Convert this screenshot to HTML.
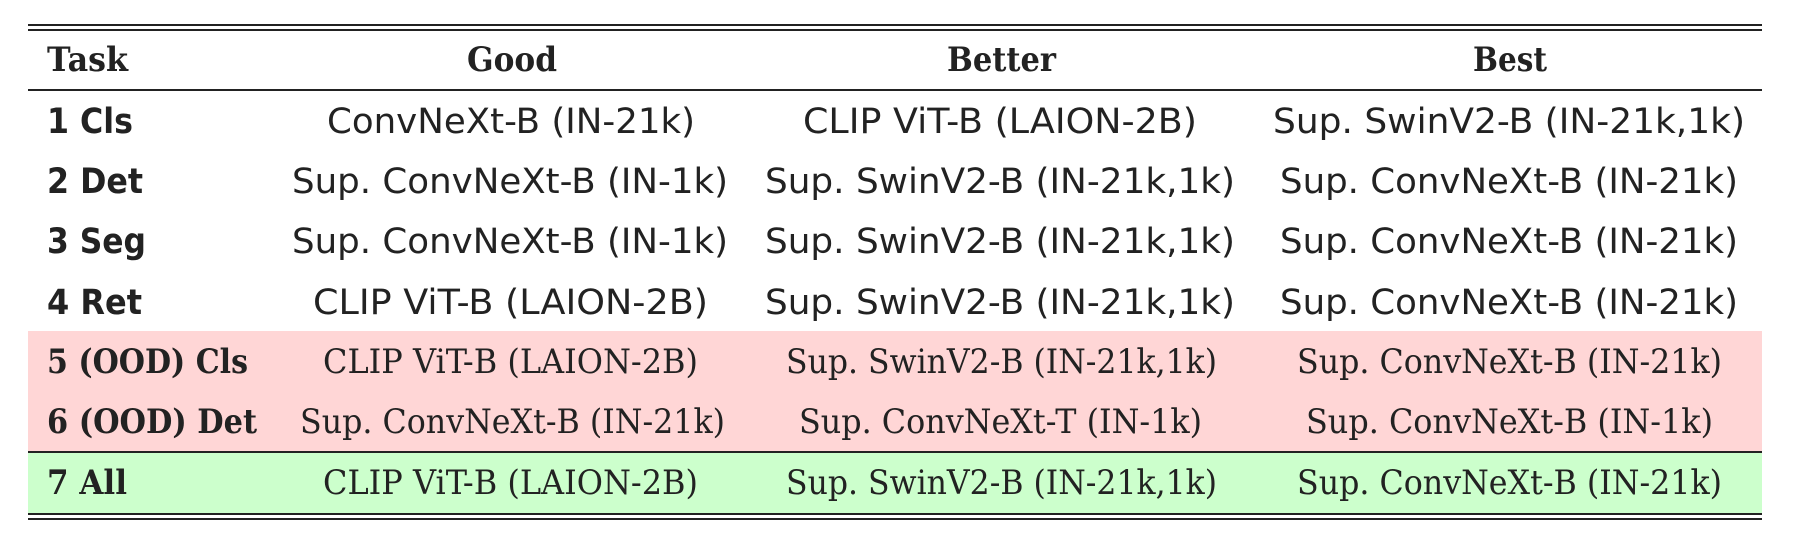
<!DOCTYPE html>
<html><head><meta charset="utf-8"><style>
html,body{margin:0;padding:0;background:#fff;}
svg{display:block;}
.s{font-family:"DejaVu Sans","Liberation Sans",sans-serif;font-size:35px;fill:#222;}
.sb{font-family:"DejaVu Sans","Liberation Sans",sans-serif;font-size:35px;font-weight:bold;fill:#222;}
.r{font-family:"DejaVu Serif","Liberation Serif",serif;font-size:34px;fill:#222;}
.rb{font-family:"DejaVu Serif","Liberation Serif",serif;font-size:34px;font-weight:bold;fill:#222;}
</style></head><body>
<svg width="1798" height="541" viewBox="0 0 1798 541" xmlns="http://www.w3.org/2000/svg">
<rect x="28" y="331" width="1734" height="120" fill="#ffd6d6"/>
<rect x="28" y="453" width="1734" height="60" fill="#ccffcc"/>
<rect x="28" y="24" width="1734" height="2" fill="#222"/>
<rect x="28" y="29" width="1734" height="2" fill="#222"/>
<rect x="28" y="89" width="1734" height="2" fill="#222"/>
<rect x="28" y="451" width="1734" height="2" fill="#222"/>
<rect x="28" y="513" width="1734" height="2" fill="#222"/>
<rect x="28" y="518" width="1734" height="2" fill="#222"/>

<text class="rb" x="47" y="71" textLength="81" lengthAdjust="spacingAndGlyphs">Task</text>
<text class="rb" x="467" y="71" textLength="90" lengthAdjust="spacingAndGlyphs">Good</text>
<text class="rb" x="947" y="71" textLength="109" lengthAdjust="spacingAndGlyphs">Better</text>
<text class="rb" x="1473" y="71" textLength="74" lengthAdjust="spacingAndGlyphs">Best</text>

<text class="sb" x="47" y="133" textLength="86" lengthAdjust="spacingAndGlyphs">1 Cls</text>
<text class="s" x="327" y="133" textLength="368" lengthAdjust="spacingAndGlyphs">ConvNeXt-B (IN-21k)</text>
<text class="s" x="803" y="133" textLength="394" lengthAdjust="spacingAndGlyphs">CLIP ViT-B (LAION-2B)</text>
<text class="s" x="1273" y="133" textLength="472" lengthAdjust="spacingAndGlyphs">Sup. SwinV2-B (IN-21k,1k)</text>

<text class="sb" x="47" y="193" textLength="96" lengthAdjust="spacingAndGlyphs">2 Det</text>
<text class="s" x="292" y="193" textLength="436" lengthAdjust="spacingAndGlyphs">Sup. ConvNeXt-B (IN-1k)</text>
<text class="s" x="765" y="193" textLength="470" lengthAdjust="spacingAndGlyphs">Sup. SwinV2-B (IN-21k,1k)</text>
<text class="s" x="1280" y="193" textLength="458" lengthAdjust="spacingAndGlyphs">Sup. ConvNeXt-B (IN-21k)</text>

<text class="sb" x="47" y="253" textLength="99" lengthAdjust="spacingAndGlyphs">3 Seg</text>
<text class="s" x="292" y="253" textLength="436" lengthAdjust="spacingAndGlyphs">Sup. ConvNeXt-B (IN-1k)</text>
<text class="s" x="765" y="253" textLength="470" lengthAdjust="spacingAndGlyphs">Sup. SwinV2-B (IN-21k,1k)</text>
<text class="s" x="1280" y="253" textLength="458" lengthAdjust="spacingAndGlyphs">Sup. ConvNeXt-B (IN-21k)</text>

<text class="sb" x="47" y="314" textLength="95" lengthAdjust="spacingAndGlyphs">4 Ret</text>
<text class="s" x="313" y="314" textLength="395" lengthAdjust="spacingAndGlyphs">CLIP ViT-B (LAION-2B)</text>
<text class="s" x="765" y="314" textLength="470" lengthAdjust="spacingAndGlyphs">Sup. SwinV2-B (IN-21k,1k)</text>
<text class="s" x="1280" y="314" textLength="458" lengthAdjust="spacingAndGlyphs">Sup. ConvNeXt-B (IN-21k)</text>

<text class="rb" x="47" y="373" textLength="201" lengthAdjust="spacingAndGlyphs">5 (OOD) Cls</text>
<text class="r" x="323" y="373" textLength="375" lengthAdjust="spacingAndGlyphs">CLIP ViT-B (LAION-2B)</text>
<text class="r" x="786" y="373" textLength="431" lengthAdjust="spacingAndGlyphs">Sup. SwinV2-B (IN-21k,1k)</text>
<text class="r" x="1297" y="373" textLength="425" lengthAdjust="spacingAndGlyphs">Sup. ConvNeXt-B (IN-21k)</text>

<text class="rb" x="47" y="433" textLength="210" lengthAdjust="spacingAndGlyphs">6 (OOD) Det</text>
<text class="r" x="300" y="433" textLength="425" lengthAdjust="spacingAndGlyphs">Sup. ConvNeXt-B (IN-21k)</text>
<text class="r" x="799" y="433" textLength="403" lengthAdjust="spacingAndGlyphs">Sup. ConvNeXt-T (IN-1k)</text>
<text class="r" x="1306" y="433" textLength="407" lengthAdjust="spacingAndGlyphs">Sup. ConvNeXt-B (IN-1k)</text>

<text class="rb" x="47" y="494" textLength="80" lengthAdjust="spacingAndGlyphs">7 All</text>
<text class="r" x="323" y="494" textLength="375" lengthAdjust="spacingAndGlyphs">CLIP ViT-B (LAION-2B)</text>
<text class="r" x="786" y="494" textLength="431" lengthAdjust="spacingAndGlyphs">Sup. SwinV2-B (IN-21k,1k)</text>
<text class="r" x="1297" y="494" textLength="425" lengthAdjust="spacingAndGlyphs">Sup. ConvNeXt-B (IN-21k)</text>
</svg>
</body></html>
